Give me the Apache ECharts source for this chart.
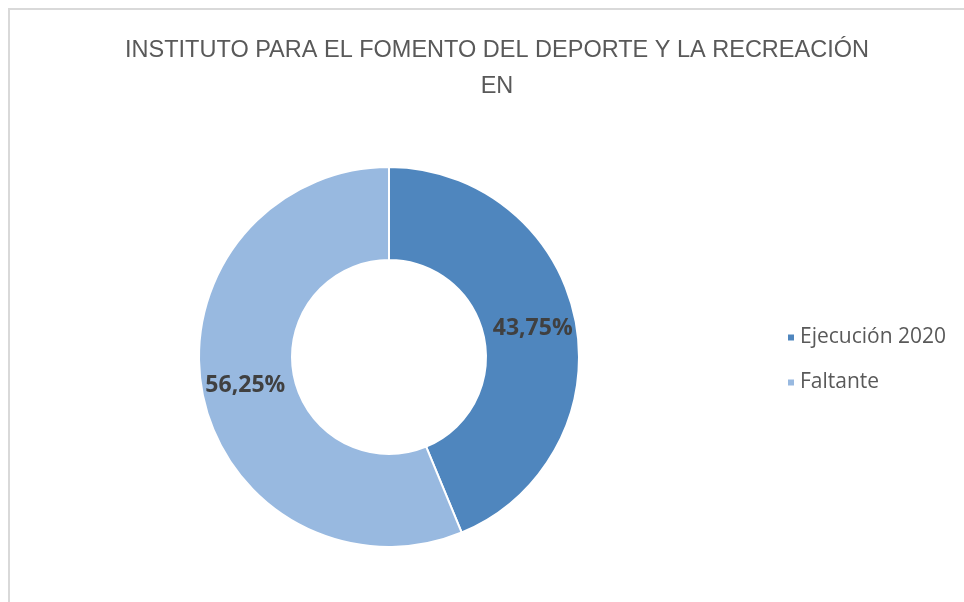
<!DOCTYPE html>
<html>
<head>
<meta charset="utf-8">
<script src="https://cdn.jsdelivr.net/npm/echarts@6/dist/echarts.min.js"></script>
<style>
  html, body { margin: 0; padding: 0; background: #fff; }
  #chart { width: 964px; height: 602px; }
</style>
</head>
<body>
<div id="chart"></div>
<script>
// datos del grafico
var categorias = ['Ejecución 2020', 'Faltante']
var valores = [43.75, 56.25]
var colores = ['#4F86BE', '#98B9E0']
var titulo = 'INSTITUTO PARA EL FOMENTO DEL DEPORTE Y LA RECREACIÓN\nEN'

var chart = echarts.init(document.getElementById('chart'))

var option = {
  backgroundColor: '#fff',
  color: colores,
  graphic: [
    {
      type: 'rect',
      shape: { x: 9, y: 9, width: 1000, height: 700 },
      style: { fill: 'none', stroke: '#d9d9d9', lineWidth: 2 },
      silent: true
    }
  ],
  title: {
    text: titulo,
    left: 492,
    top: 28,
    textAlign: 'center',
    textStyle: {
      fontFamily: 'Liberation Sans',
      fontWeight: 'normal',
      fontSize: 23.5,
      color: '#595959',
      lineHeight: 36
    }
  },
  legend: {
    orient: 'vertical',
    left: 781,
    top: 322,
    icon: 'rect',
    itemWidth: 8,
    itemHeight: 8,
    itemGap: 24,
    textStyle: {
      fontFamily: 'Open Sans',
      fontSize: 21,
      color: '#595959'
    },
    data: categorias
  },
  series: [
    {
      type: 'pie',
      center: [389, 357],
      radius: [97, 190],
      startAngle: 90,
      clockwise: true,
      avoidLabelOverlap: false,
      itemStyle: { borderColor: '#fff', borderWidth: 2 },
      label: {
        show: true,
        position: 'inside',
        formatter: function (p) {
          return p.value.toFixed(2).replace('.', ',') + '%'
        },
        fontFamily: 'Open Sans',
        fontWeight: 'bold',
        fontSize: 23,
        color: '#404040'
      },
      labelLine: { show: false },
      emphasis: { disabled: true },
      data: categorias.map(function (c, i) {
        return { name: c, value: valores[i] }
      })
    }
  ]
}

chart.setOption(option)
</script>
</body>
</html>
